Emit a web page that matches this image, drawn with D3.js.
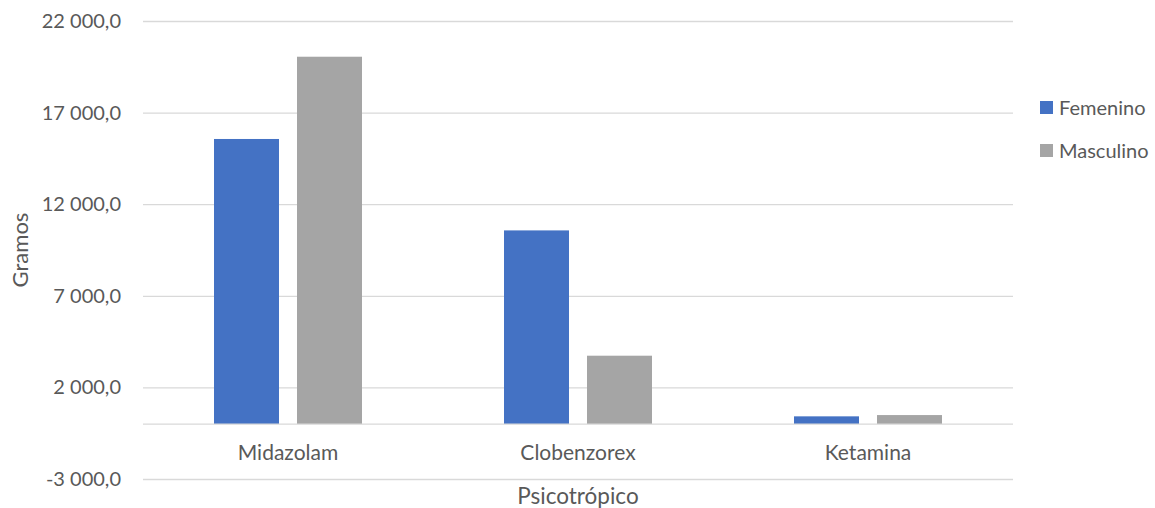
<!DOCTYPE html>
<html>
<head>
<meta charset="utf-8">
<script src="https://cdn.jsdelivr.net/npm/d3@7"></script>
<style>
  html, body { margin: 0; padding: 0; background: #fff; }
  svg { display: block; font-family: Lato, "Open Sans", sans-serif; }
</style>
</head>
<body>
<svg id="chart" width="1155" height="508"></svg>
<script>
// Data
const categories = ["Midazolam", "Clobenzorex", "Ketamina"];
const seriesNames = ["Femenino", "Masculino"];
const femenino = [15560, 10570, 420];
const masculino = [20050, 3730, 490];
const yTicks = [-3000, 2000, 7000, 12000, 17000, 22000];
const yTitle = "Gramos";
const xTitle = "Psicotrópico";

const colors = { Femenino: "#4472C4", Masculino: "#A5A5A5" };
const textColor = "#595959";
const gridColor = "#D9D9D9";

const values = [femenino, masculino];
const rows = categories.map((c, i) => ({
  category: c,
  items: seriesNames.map((s, j) => ({ series: s, value: values[j][i] }))
}));

const svg = d3.select("#chart");
const plot = { left: 143, right: 1013, top: 21, bottom: 479 };

const y = d3.scaleLinear().domain([-3000, 22000]).range([plot.bottom, plot.top]);
const x0 = d3.scaleBand().domain(categories).range([plot.left, plot.right]).padding(0);

// Bars of one category: width 65, gap 18, centred in the band
const barW = 65, barGap = 18;
const groupW = 2 * barW + barGap;
const step = barW + barGap;
const x1 = d3.scaleBand()
  .domain(seriesNames)
  .range([(x0.bandwidth() - groupW) / 2, (x0.bandwidth() + groupW) / 2])
  .paddingInner(barGap / step)
  .paddingOuter(0);

const locale = d3.formatLocale({ decimal: ",", thousands: "\u00a0", grouping: [3], currency: ["", ""], minus: "-" });
const fmt = locale.format(",.1f");

// Gridlines and tick labels
const yAxis = d3.axisLeft(y).tickValues(yTicks).tickSize(-(plot.right - plot.left)).tickFormat(fmt).tickPadding(22);
const gy = svg.append("g").attr("transform", `translate(${plot.left},0)`).call(yAxis);
gy.select(".domain").remove();
gy.selectAll(".tick line").attr("stroke", gridColor).attr("stroke-width", 1.3);
gy.selectAll(".tick text")
  .attr("fill", textColor)
  .style("font-size", "20px")
  .style("font-family", "Lato, 'Open Sans', sans-serif");

// Bars
const groups = svg.append("g").selectAll("g")
  .data(rows)
  .join("g")
  .attr("transform", d => `translate(${x0(d.category)},0)`);

groups.selectAll("rect")
  .data(d => d.items)
  .join("rect")
  .attr("x", d => x1(d.series))
  .attr("width", x1.bandwidth())
  .attr("y", d => y(Math.max(0, d.value)))
  .attr("height", d => Math.abs(y(d.value) - y(0)))
  .attr("fill", d => colors[d.series]);

// Category axis at zero
svg.append("line")
  .attr("x1", plot.left).attr("x2", plot.right)
  .attr("y1", y(0)).attr("y2", y(0))
  .attr("stroke", gridColor).attr("stroke-width", 1.3);

svg.append("g").selectAll("text")
  .data(categories)
  .join("text")
  .attr("x", d => x0(d) + x0.bandwidth() / 2)
  .attr("y", 460)
  .attr("text-anchor", "middle")
  .attr("fill", textColor)
  .style("font-size", "21px")
  .text(d => d);

// Axis titles
svg.append("text")
  .attr("x", (plot.left + plot.right) / 2)
  .attr("y", 504)
  .attr("text-anchor", "middle")
  .attr("fill", textColor)
  .style("font-size", "22.5px")
  .text(xTitle);

svg.append("text")
  .attr("transform", "translate(28,250) rotate(-90)")
  .attr("text-anchor", "middle")
  .attr("fill", textColor)
  .style("font-size", "22px")
  .text(yTitle);

// Legend
const legend = svg.append("g").selectAll("g")
  .data(seriesNames)
  .join("g")
  .attr("transform", (d, i) => `translate(1040,${101 + i * 43})`);
legend.append("rect").attr("width", 13).attr("height", 13).attr("fill", d => colors[d]);
legend.append("text")
  .attr("x", 19).attr("y", 6.5).attr("dy", "0.35em")
  .attr("fill", textColor)
  .style("font-size", "20px")
  .text(d => d);
</script>
</body>
</html>
